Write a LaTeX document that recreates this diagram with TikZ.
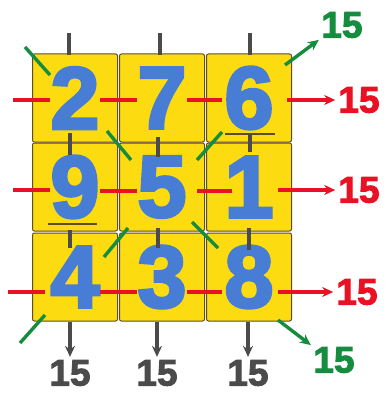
\documentclass[tikz,border=0pt]{standalone}
\usepackage{fontspec}
\setmainfont{Liberation Sans}
\newfontfamily\digitfont[FakeBold=3.5]{Liberation Sans Bold}
\newfontfamily\totalfont[FakeBold=2.5]{Liberation Sans Bold}
\usetikzlibrary{arrows.meta}
\definecolor{tileyel}{RGB}{252,220,16}
\definecolor{tileedge}{RGB}{95,75,40}
\definecolor{digblue}{RGB}{72,125,214}
\definecolor{sumred}{RGB}{232,18,36}
\definecolor{sumgreen}{RGB}{22,140,62}
\definecolor{sumgray}{RGB}{75,75,75}

\begin{document}
\begin{tikzpicture}[x=1pt, y=-1pt,
  tile/.style={draw=tileedge, fill=tileyel, line width=1pt, rounded corners=2pt,
               minimum width=85pt, minimum height=88pt, inner sep=0pt,
               text=digblue, font=\fontsize{88}{88}\selectfont\digitfont},
  total/.style={inner sep=0pt, font=\fontsize{37}{37}\selectfont\totalfont},
  redln/.style={draw=sumred, line width=3.4pt},
  grnln/.style={draw=sumgreen, line width=3.4pt},
  grayln/.style={draw=sumgray, line width=3.2pt},
  arr/.style={-{Stealth[length=11pt,width=10pt]}, shorten >=3pt}
]
\useasboundingbox (0,0) rectangle (388,393);
% Row 1
\node[tile] (t11) at (75,98)  {2};
\node[tile] (t12) at (162,98) {7};
\node[tile] (t13) at (249,98) {6};
% Row 2
\node[tile] (t21) at (75,187)  {9};
\node[tile] (t22) at (162,187) {5};
\node[tile] (t23) at (249,187) {1};
% Row 3
\node[tile] (t31) at (75,277)  {4};
\node[tile] (t32) at (162,277) {3};
\node[tile] (t33) at (249,277) {8};
% underlines of 6 and 9
\draw[tileedge, line width=2.6pt] (225,134) -- (275,134);
\draw[tileedge, line width=2.6pt] (48,224) -- (97,224);
% Sums
\node[total, text=sumred]   (r1) at (359,100) {15};
\node[total, text=sumred]   (r2) at (359,190) {15};
\node[total, text=sumred]   (r3) at (357,292) {15};
\node[total, text=sumgray]  (c1) at (70,373)  {15};
\node[total, text=sumgray]  (c2) at (157,373) {15};
\node[total, text=sumgray]  (c3) at (248,373) {15};
\node[total, text=sumgreen] (d1) at (342,25)  {15};
\node[total, text=sumgreen] (d2) at (334,360) {15};
% Rows (red)
\draw[redln] (13,100) -- (50,100);
\draw[redln] (100,100) -- (137,100);
\draw[redln] (187,100) -- (222,100);
\draw[redln, arr] (287,100) -- (r1.west);
\draw[redln] (13,190) -- (50,190);
\draw[redln] (100,191) -- (137,191);
\draw[redln] (197,191) -- (232,191);
\draw[redln, arr] (278,190) -- (r2.west);
\draw[redln] (8,292) -- (45,292);
\draw[redln] (100,292) -- (137,292);
\draw[redln] (187,292) -- (222,292);
\draw[redln, arr] (278,292) -- (r3.west);
% Columns (gray)
\draw[grayln] (69,33) -- (69,55);
\draw[grayln] (160,33) -- (160,55);
\draw[grayln] (250,33) -- (250,55);
\draw[grayln] (70,133) -- (70,155);
\draw[grayln] (158,137) -- (158,157);
\draw[grayln] (250,133) -- (250,152);
\draw[grayln] (70,230) -- (70,248);
\draw[grayln] (158,228) -- (158,248);
\draw[grayln] (249,228) -- (249,250);
\draw[grayln, arr] (70,322) -- (c1.north);
\draw[grayln, arr] (157,322) -- (c2.north);
\draw[grayln, arr] (248,322) -- (c3.north);
% Diagonals (green)
\draw[grnln] (25,47) -- (50,75);
\draw[grnln] (107,131) -- (131,160);
\draw[grnln] (192,222) -- (218,248);
\draw[grnln, arr] (278,320) -- (d2.north west);
\draw[grnln] (20,343) -- (45,315);
\draw[grnln] (104,257) -- (128,228);
\draw[grnln] (197,160) -- (222,132);
\draw[grnln, arr] (285,65) -- (d1.south west);
\end{tikzpicture}
\end{document}
